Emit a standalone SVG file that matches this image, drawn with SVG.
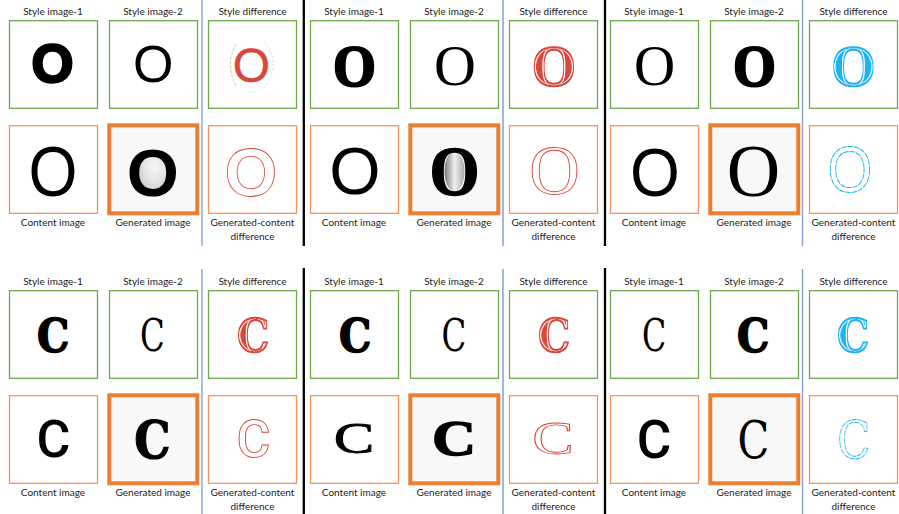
<svg xmlns="http://www.w3.org/2000/svg" width="899" height="514" viewBox="0 0 899 514">
<defs>
<style>
.lbl{font-family:Lato,"Liberation Sans",sans-serif;font-size:10px;fill:#222;text-anchor:middle}
.gb{fill:#fff;stroke:#6FA84A;stroke-width:1.3}
.ob{fill:#fff;stroke:#F29660;stroke-width:1.3}
.gen{fill:#f8f8f8;stroke:#ED7D31;stroke-width:4}
.L{text-anchor:middle}
.sR{font-family:"Liberation Sans",sans-serif}
.sB{font-family:"Liberation Sans",sans-serif;font-weight:700}
.fR{font-family:"Liberation Serif",serif}
.fB{font-family:"Liberation Serif",serif;font-weight:700}
.dR{font-family:"DejaVu Serif",serif}
.dB{font-family:"DejaVu Serif",serif;font-weight:700}
.rb{font-family:Roboto,"Liberation Sans",sans-serif;font-weight:500}
.k{fill:#000}
.kb{fill:#000;stroke:#000}
.rd{fill:#D9463A;stroke:#D9463A;filter:url(#dbl)}
.cy{fill:#19B6F2;stroke:#19B6F2;filter:url(#dbl)}
.ro{fill:none;stroke:#D9463A}
.co{fill:none;stroke:#19B6F2}
.blue{stroke:#85A3DA;stroke-width:1.4}
.blue2{stroke:#4F7BC8;stroke-width:1.1}
.sep{stroke:#000;stroke-width:2.3}
</style>
<filter id="dbl" x="-20%" y="-20%" width="140%" height="140%">
<feMorphology in="SourceAlpha" operator="erode" radius="1.5" result="e1"/>
<feMorphology in="SourceAlpha" operator="erode" radius="2.3" result="e2"/>
<feComposite in="e1" in2="e2" operator="out" result="ring"/>
<feFlood flood-color="#ffffff"/>
<feComposite in2="ring" operator="in" result="wring"/>
<feMerge><feMergeNode in="SourceGraphic"/><feMergeNode in="wring"/></feMerge>
</filter>
<radialGradient id="cnt1" cx="0.55" cy="0.4" r="0.6">
<stop offset="0" stop-color="#f6f6f6"/><stop offset="0.6" stop-color="#e4e4e4"/><stop offset="1" stop-color="#cfcfcf"/>
</radialGradient>
<linearGradient id="cnt2" x1="0" y1="0" x2="1" y2="0">
<stop offset="0" stop-color="#7a7a7a"/><stop offset="0.5" stop-color="#f0f0f0"/><stop offset="1" stop-color="#a8a8a8"/>
</linearGradient>
</defs>
<rect width="899" height="514" fill="#fff"/>

<g id="connectors">
<line class="sep" x1="303.8" y1="0" x2="303.8" y2="246"/>
<line class="sep" x1="303.8" y1="268" x2="303.8" y2="514"/>
<line class="sep" x1="605" y1="0" x2="605" y2="246"/>
<line class="sep" x1="605" y1="268" x2="605" y2="514"/>
<line class="blue" x1="202" y1="0" x2="202" y2="246"/>
<line class="blue" x1="202" y1="269" x2="202" y2="514"/>
<line class="blue2" x1="503" y1="0" x2="503" y2="246"/>
<line class="blue2" x1="503" y1="269" x2="503" y2="514"/>
<line class="blue" x1="802.5" y1="0" x2="802.5" y2="246"/>
<line class="blue" x1="802.5" y1="269" x2="802.5" y2="514"/>
</g>

<!-- ===== TOP HALF: O ===== -->
<g id="panel-o1">
<g id="o1-style1"><text class="lbl" x="53" y="15">Style image-1</text><rect class="gb" x="9.5" y="20.7" width="88" height="87.6"/><text class="L sB kb" font-size="54" stroke-width="2.5" x="52.5" y="81.5">O</text></g>
<g id="o1-style2"><text class="lbl" x="153" y="15">Style image-2</text><rect class="gb" x="109.5" y="20.7" width="88" height="87.6"/><text class="L sR k" font-size="52" x="153.3" y="82.3">O</text></g>
<g id="o1-sdiff"><text class="lbl" x="252.5" y="15">Style difference</text><rect class="gb" x="208.5" y="20.7" width="88" height="87.6"/>
<path d="M236 44 Q225 64 236 86" fill="none" stroke="#EDA39B" stroke-width="0.8" stroke-dasharray="3 1.5"/>
<path d="M265 42 Q282 64 264 88" fill="none" stroke="#A9E1F5" stroke-width="0.8" stroke-dasharray="2 2"/>
<text class="L sR" fill="#D9463A" stroke="#D9463A" font-size="48" stroke-width="0.4" x="251.5" y="81.5">O</text></g>
<g id="o1-content"><text class="lbl" x="53" y="225.5">Content image</text><rect class="ob" x="9.5" y="125.7" width="88" height="87.6"/><text class="L sR k" font-size="70" transform="translate(53,195.5) scale(0.9,1)">O</text></g>
<g id="o1-gen"><text class="lbl" x="153" y="225.5">Generated image</text><rect class="gen" x="109.3" y="125.3" width="88" height="88"/><ellipse cx="153" cy="171.5" rx="14" ry="20" fill="url(#cnt1)"/><text class="L sB k" font-size="67" x="152.8" y="195.5">O</text></g>
<g id="o1-gdiff"><text class="lbl" x="252.5" y="225.5">Generated-content</text><text class="lbl" x="252.5" y="239.7">difference</text><rect class="ob" x="208.5" y="125.7" width="88" height="87.6"/>
<path d="M243 147 Q251 144 261 147" fill="none" stroke="#A9E1F5" stroke-width="0.8" stroke-dasharray="2 1.5"/>
<text class="L sB ro" font-size="68" stroke-width="0.8" x="251" y="195.5">O</text></g>
</g>

<g id="panel-o2" transform="translate(301,0)">
<g id="o2-style1"><text class="lbl" x="53" y="15">Style image-1</text><rect class="gb" x="9.5" y="20.7" width="88" height="87.6"/><text class="L fB kb" font-size="60" stroke-width="2.2" transform="translate(53.5,85.5) scale(0.92,1)">O</text></g>
<g id="o2-style2"><text class="lbl" x="153" y="15">Style image-2</text><rect class="gb" x="109.5" y="20.7" width="88" height="87.6"/><text class="L fR k" font-size="58" x="154" y="84.5">O</text></g>
<g id="o2-sdiff"><text class="lbl" x="252.5" y="15">Style difference</text><rect class="gb" x="208.5" y="20.7" width="88" height="87.6"/><text class="L fB rd" font-size="60" stroke-width="1.6" transform="translate(253,86) scale(0.95,1)">O</text></g>
<g id="o2-content"><text class="lbl" x="53" y="225.5">Content image</text><rect class="ob" x="9.5" y="125.7" width="88" height="87.6"/><text class="L sR k" font-size="66" x="54" y="194">O</text></g>
<g id="o2-gen"><text class="lbl" x="153" y="225.5">Generated image</text><rect class="gen" x="109.3" y="125.3" width="88" height="88"/><ellipse cx="153.5" cy="171.5" rx="10" ry="20" fill="url(#cnt2)"/><text class="L fB kb" font-size="70" stroke-width="1.5" transform="translate(153.5,195) scale(0.92,1)">O</text></g>
<g id="o2-gdiff"><text class="lbl" x="252.5" y="225.5">Generated-content</text><text class="lbl" x="252.5" y="239.7">difference</text><rect class="ob" x="208.5" y="125.7" width="88" height="87.6"/><text class="L fR ro" font-size="70" stroke-width="0.9" x="253.5" y="194">O</text></g>
</g>

<g id="panel-o3" transform="translate(601,0)">
<g id="o3-style1"><text class="lbl" x="53" y="15">Style image-1</text><rect class="gb" x="9.5" y="20.7" width="88" height="87.6"/><text class="L fR k" font-size="57" x="53.5" y="85">O</text></g>
<g id="o3-style2"><text class="lbl" x="153" y="15">Style image-2</text><rect class="gb" x="109.5" y="20.7" width="88" height="87.6"/><text class="L fB kb" font-size="60" stroke-width="2.2" transform="translate(153.5,85.5) scale(0.92,1)">O</text></g>
<g id="o3-sdiff"><text class="lbl" x="252.5" y="15">Style difference</text><rect class="gb" x="208.5" y="20.7" width="88" height="87.6"/><text class="L fB cy" font-size="60" stroke-width="1.6" transform="translate(252.5,86) scale(0.95,1)">O</text></g>
<g id="o3-content"><text class="lbl" x="53" y="225.5">Content image</text><rect class="ob" x="9.5" y="125.7" width="88" height="87.6"/><text class="L sR k" font-size="69" transform="translate(54,196) scale(0.93,1)">O</text></g>
<g id="o3-gen"><text class="lbl" x="153" y="225.5">Generated image</text><rect class="gen" x="109.3" y="125.3" width="88" height="88"/><text class="L fR k" font-size="74" x="152.5" y="196">O</text></g>
<g id="o3-gdiff"><text class="lbl" x="252.5" y="225.5">Generated-content</text><text class="lbl" x="252.5" y="239.7">difference</text><rect class="ob" x="208.5" y="125.7" width="88" height="87.6"/><text class="L sR co" font-size="64" stroke-width="1" stroke-dasharray="6 1" transform="translate(249,192) scale(0.9,1)">O</text></g>
</g>

<!-- ===== BOTTOM HALF: C ===== -->
<g id="panel-c1" transform="translate(0,270)">
<g id="c1-style1"><text class="lbl" x="53" y="15">Style image-1</text><rect class="gb" x="9.5" y="20.7" width="88" height="87.6"/><text class="L dB kb" font-size="46" stroke-width="1.6" transform="translate(53,82) scale(0.88,1)">C</text></g>
<g id="c1-style2"><text class="lbl" x="153" y="15">Style image-2</text><rect class="gb" x="109.5" y="20.7" width="88" height="87.6"/><text class="L dR k" font-size="45" transform="translate(152.5,81) scale(0.72,1)">C</text></g>
<g id="c1-sdiff"><text class="lbl" x="252.5" y="15">Style difference</text><rect class="gb" x="208.5" y="20.7" width="88" height="87.6"/><text class="L dB rd" font-size="46" stroke-width="1.6" transform="translate(253,82) scale(0.88,1)">C</text></g>
<g id="c1-content"><text class="lbl" x="53" y="225.5">Content image</text><rect class="ob" x="9.5" y="125.7" width="88" height="87.6"/><text class="L rb k" font-size="52" x="53.5" y="187">C</text></g>
<g id="c1-gen"><text class="lbl" x="153" y="225.5">Generated image</text><rect class="gen" x="109.3" y="125.3" width="88" height="88"/><text class="L dB kb" font-size="53" stroke-width="1.2" transform="translate(152.5,187.5) scale(0.86,1)">C</text></g>
<g id="c1-gdiff"><text class="lbl" x="252.5" y="225.5">Generated-content</text><text class="lbl" x="252.5" y="239.7">difference</text><rect class="ob" x="208.5" y="125.7" width="88" height="87.6"/><text class="L rb ro" font-size="52" stroke-width="0.9" x="253.5" y="187">C</text></g>
</g>

<g id="panel-c2" transform="translate(301,270)">
<g id="c2-style1"><text class="lbl" x="53" y="15">Style image-1</text><rect class="gb" x="9.5" y="20.7" width="88" height="87.6"/><text class="L dB kb" font-size="46" stroke-width="1.6" transform="translate(54,82) scale(0.88,1)">C</text></g>
<g id="c2-style2"><text class="lbl" x="153" y="15">Style image-2</text><rect class="gb" x="109.5" y="20.7" width="88" height="87.6"/><text class="L dR k" font-size="45" transform="translate(153,81) scale(0.72,1)">C</text></g>
<g id="c2-sdiff"><text class="lbl" x="252.5" y="15">Style difference</text><rect class="gb" x="208.5" y="20.7" width="88" height="87.6"/><text class="L dB rd" font-size="46" stroke-width="1.6" transform="translate(253,82) scale(0.88,1)">C</text></g>
<g id="c2-content"><text class="lbl" x="53" y="225.5">Content image</text><rect class="ob" x="9.5" y="125.7" width="88" height="87.6"/><text class="L fR kb" font-size="45" stroke-width="0.8" transform="translate(53,182.5) scale(1.35,1)">C</text></g>
<g id="c2-gen"><text class="lbl" x="153" y="225.5">Generated image</text><rect class="gen" x="109.3" y="125.3" width="88" height="88"/><text class="L fB kb" font-size="50" stroke-width="1.4" transform="translate(153,185) scale(1.22,1)">C</text></g>
<g id="c2-gdiff"><text class="lbl" x="252.5" y="225.5">Generated-content</text><text class="lbl" x="252.5" y="239.7">difference</text><rect class="ob" x="208.5" y="125.7" width="88" height="87.6"/><text class="L fR ro" font-size="47" stroke-width="0.9" transform="translate(252,184) scale(1.32,1)">C</text></g>
</g>

<g id="panel-c3" transform="translate(601,270)">
<g id="c3-style1"><text class="lbl" x="53" y="15">Style image-1</text><rect class="gb" x="9.5" y="20.7" width="88" height="87.6"/><text class="L dR k" font-size="44" transform="translate(53,81) scale(0.72,1)">C</text></g>
<g id="c3-style2"><text class="lbl" x="153" y="15">Style image-2</text><rect class="gb" x="109.5" y="20.7" width="88" height="87.6"/><text class="L dB kb" font-size="46" stroke-width="1.6" transform="translate(152,82) scale(0.88,1)">C</text></g>
<g id="c3-sdiff"><text class="lbl" x="252.5" y="15">Style difference</text><rect class="gb" x="208.5" y="20.7" width="88" height="87.6"/><text class="L dB cy" font-size="46" stroke-width="1.6" transform="translate(252,82) scale(0.88,1)">C</text></g>
<g id="c3-content"><text class="lbl" x="53" y="225.5">Content image</text><rect class="ob" x="9.5" y="125.7" width="88" height="87.6"/><text class="L rb k" font-size="53" x="53" y="187.5">C</text></g>
<g id="c3-gen"><text class="lbl" x="153" y="225.5">Generated image</text><rect class="gen" x="109.3" y="125.3" width="88" height="88"/><text class="L dR k" font-size="52" transform="translate(152.5,187.5) scale(0.8,1)">C</text></g>
<g id="c3-gdiff"><text class="lbl" x="252.5" y="225.5">Generated-content</text><text class="lbl" x="252.5" y="239.7">difference</text><rect class="ob" x="208.5" y="125.7" width="88" height="87.6"/><text class="L dR co" font-size="53" stroke-width="0.9" stroke-dasharray="6 1" transform="translate(252.5,188) scale(0.82,1)">C</text></g>
</g>
</svg>
